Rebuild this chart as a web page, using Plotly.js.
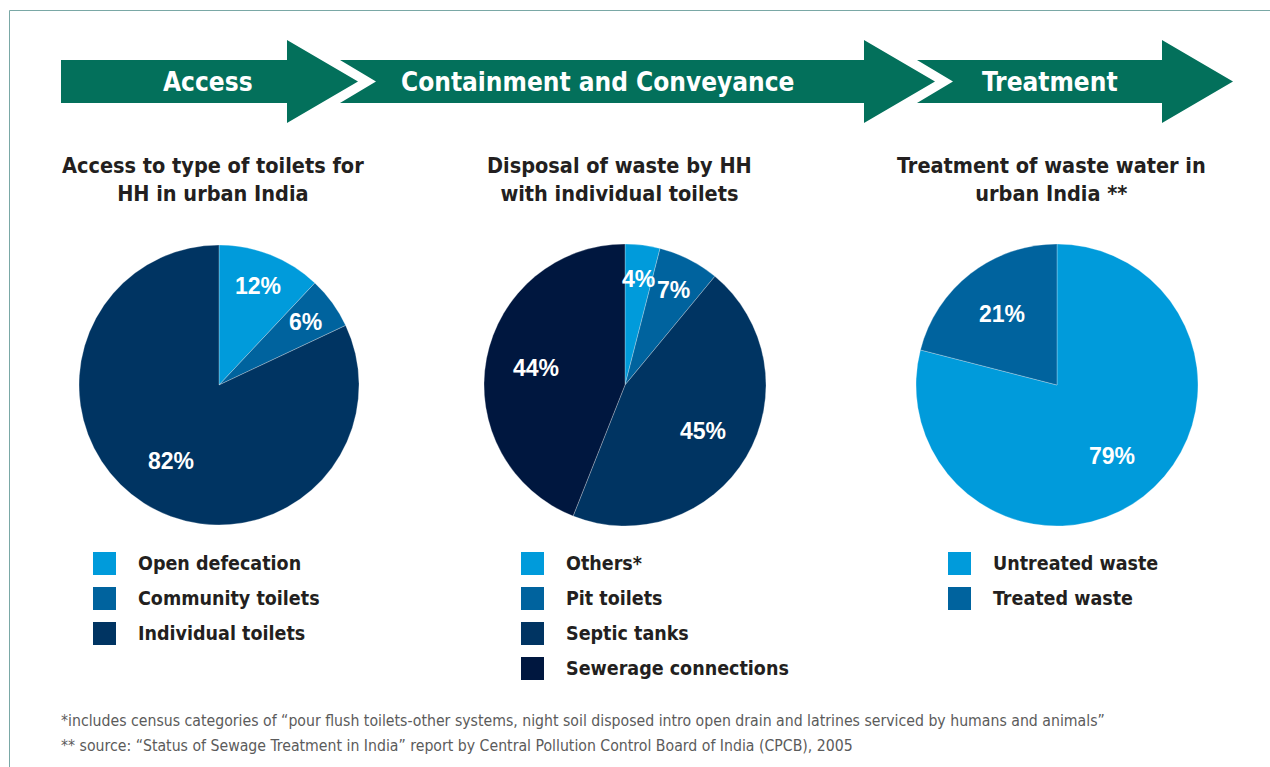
<!DOCTYPE html>
<html>
<head>
<meta charset="utf-8">
<script src="https://cdn.plot.ly/plotly-3.0.1.min.js"></script>
<style>html,body{margin:0;padding:0;background:#fff;}#chart{width:1270px;height:767px;}</style>
</head>
<body>
<div id="chart"></div>
<script>
// ---------- DATA ----------
const stageLabels = ["Access", "Containment and Conveyance", "Treatment"];

const pie1Title = "Access to type of toilets for<br>HH in urban India";
const pie1Labels = ["Open defecation", "Community toilets", "Individual toilets"];
const pie1Values = [12, 6, 82];

const pie2Title = "Disposal of waste by HH<br>with individual toilets";
const pie2Labels = ["Others*", "Pit toilets", "Septic tanks", "Sewerage connections"];
const pie2Values = [4, 7, 45, 44];

const pie3Title = "Treatment of waste water in<br>urban India **";
const pie3Labels = ["Untreated waste", "Treated waste"];
const pie3Values = [79, 21];

const footnotes = [
  "*includes census categories of \u201cpour flush toilets-other systems, night soil disposed intro open drain and latrines serviced by humans and animals\u201d",
  "** source: \u201cStatus of Sewage Treatment in India\u201d report by Central Pollution Control Board of India (CPCB), 2005"
];

// ---------- STYLE ----------
const W = 1270, H = 767;
const X = p => p / W;
const Y = p => 1 - p / H;
const blues = ["#009bdb", "#00639e", "#003462", "#00173f"];
const green = "#03705b";
const condensed = "'Liberation Sans Narrow', 'DejaVu Sans Condensed', 'Roboto Condensed', 'Liberation Sans', sans-serif";
const textDark = "#231f20";

const pies = [
  {title: pie1Title, labels: pie1Labels, values: pie1Values, cx: 219, cy: 385, r: 140, legX: 93},
  {title: pie2Title, labels: pie2Labels, values: pie2Values, cx: 625, cy: 385, r: 141, legX: 521},
  {title: pie3Title, labels: pie3Labels, values: pie3Values, cx: 1057, cy: 385, r: 141, legX: 948}
];

const traces = [];
const annotations = [];
const shapes = [];

// frame lines
shapes.push({type: "line", xref: "paper", yref: "paper", x0: X(9.5), x1: X(9.5), y0: Y(10.5), y1: Y(H), line: {color: "#7aa8a6", width: 1}});
shapes.push({type: "line", xref: "paper", yref: "paper", x0: X(9.5), x1: X(W), y0: Y(10.5), y1: Y(10.5), line: {color: "#7aa8a6", width: 1}});

// arrows
const bodyTop = 60, bodyBot = 103, headTop = 40, headBot = 123, mid = 81.5, headLen = 71, notch = 36;
const arrows = [
  {start: 61, notched: false, headStart: 287, textX: 208},
  {start: 340, notched: true, headStart: 864, textX: 598},
  {start: 917, notched: true, headStart: 1162, textX: 1050}
];
arrows.forEach((a, i) => {
  const pts = [];
  pts.push([a.start, bodyTop]);
  pts.push([a.headStart, bodyTop]);
  pts.push([a.headStart, headTop]);
  pts.push([a.headStart + headLen, mid]);
  pts.push([a.headStart, headBot]);
  pts.push([a.headStart, bodyBot]);
  pts.push([a.start, bodyBot]);
  if (a.notched) pts.push([a.start + notch, mid]);
  const path = "M" + pts.map(p => X(p[0]).toFixed(5) + "," + Y(p[1]).toFixed(5)).join("L") + "Z";
  shapes.push({type: "path", xref: "paper", yref: "paper", path: path, fillcolor: green, line: {width: 0}, layer: "below"});
  annotations.push({xref: "paper", yref: "paper", x: X(a.textX), y: Y(mid), xanchor: "center", yanchor: "middle",
    text: stageLabels[i], showarrow: false, font: {family: condensed, size: 26, color: "#ffffff", weight: 700}});
});

pies.forEach((p, k) => {
  traces.push({
    type: "pie",
    labels: p.labels,
    values: p.values,
    sort: false,
    direction: "clockwise",
    rotation: 0,
    textinfo: "none",
    hoverinfo: "label+percent",
    showlegend: false,
    marker: {colors: blues.slice(0, p.values.length), line: {color: "rgba(255,255,255,0.45)", width: 0.6}},
    domain: {x: [X(p.cx - p.r), X(p.cx + p.r)], y: [Y(p.cy + p.r), Y(p.cy - p.r)]}
  });
  // title
  annotations.push({xref: "paper", yref: "paper", x: X(p.cx - 6), y: Y(151), xanchor: "center", yanchor: "top",
    text: p.title, showarrow: false, align: "center",
    font: {family: condensed, size: 21.5, color: textDark, weight: 700}});
  // percent labels
  const total = p.values.reduce((s, v) => s + v, 0);
  let cum = 0;
  p.values.forEach(v => {
    const ang = (cum + v / 2) / total * 2 * Math.PI;
    cum += v;
    const rf = v < 15 ? 0.76 : 0.64;
    const lx = p.cx + rf * p.r * Math.sin(ang);
    const ly = p.cy - rf * p.r * Math.cos(ang);
    annotations.push({xref: "paper", yref: "paper", x: X(lx), y: Y(ly), xanchor: "center", yanchor: "middle",
      text: Math.round(v / total * 100) + "%", showarrow: false,
      font: {family: "'Liberation Sans', Arial, sans-serif", size: 23, color: "#ffffff", weight: 700}});
  });
  // legend
  p.labels.forEach((lab, i) => {
    const rowY = 563.5 + i * 35;
    shapes.push({type: "rect", xref: "paper", yref: "paper", x0: X(p.legX), x1: X(p.legX + 23),
      y0: Y(rowY + 11.5), y1: Y(rowY - 11.5), fillcolor: blues[i], line: {width: 0}});
    annotations.push({xref: "paper", yref: "paper", x: X(p.legX + 43), y: Y(rowY), xanchor: "left", yanchor: "middle",
      text: lab, showarrow: false, font: {family: condensed, size: 19.5, color: textDark, weight: 700}});
  });
});

// footnotes
footnotes.forEach((f, i) => {
  annotations.push({xref: "paper", yref: "paper", x: X(59), y: Y(720 + i * 25), xanchor: "left", yanchor: "middle",
    text: f, showarrow: false, font: {family: condensed, size: 15.7, color: "#5b5b5b"}});
});

const layout = {
  width: W, height: H,
  margin: {l: 0, r: 0, t: 0, b: 0},
  paper_bgcolor: "#ffffff",
  plot_bgcolor: "#ffffff",
  showlegend: false,
  shapes: shapes,
  annotations: annotations
};

Plotly.newPlot("chart", traces, layout, {displayModeBar: false});
</script>
</body>
</html>
